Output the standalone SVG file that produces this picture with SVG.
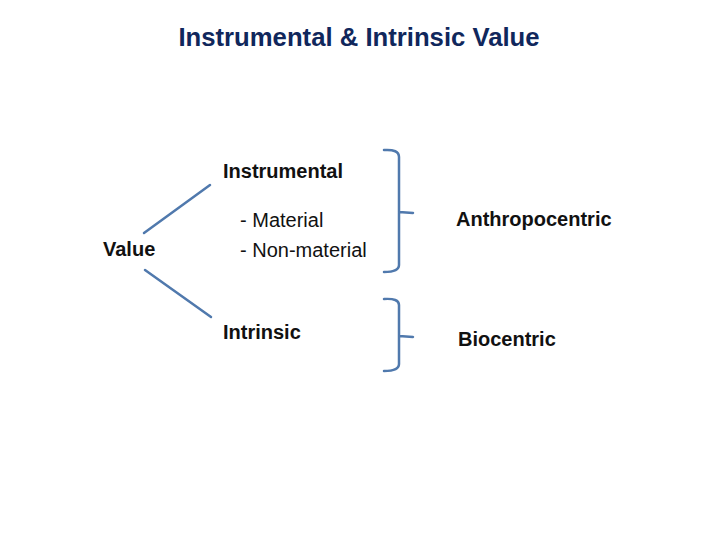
<svg xmlns="http://www.w3.org/2000/svg" width="720" height="540" viewBox="0 0 720 540">
<style>
.t{font-family:"Liberation Sans",Arial,sans-serif;font-size:20px;fill:#111}
.b{font-weight:bold}
.c{fill:none;stroke:#5079ad;stroke-width:2.5;stroke-linecap:round}
</style>
<rect width="720" height="540" fill="#fff"/>
<text id="title" x="359" y="46" text-anchor="middle" font-family="'Liberation Sans',Arial,sans-serif" font-weight="bold" font-size="25.7" fill="#10275c">Instrumental &amp; Intrinsic Value</text>
<g id="value"><text class="t b" x="103" y="256">Value</text></g>
<g id="instrumental">
<text class="t b" x="223" y="178">Instrumental</text>
<text class="t" x="240" y="227">- Material</text>
<text class="t" x="240" y="257">- Non-material</text>
</g>
<g id="intrinsic"><text class="t b" x="223" y="339">Intrinsic</text></g>
<g id="anthropocentric"><text class="t b" x="456" y="226">Anthropocentric</text></g>
<g id="biocentric"><text class="t b" x="458" y="346">Biocentric</text></g>
<g id="connectors">
<path class="c" d="M144,233 L210,185"/>
<path class="c" d="M145,270 L211,317"/>
<path class="c" d="M384,150 Q399,149 399,157 L399,265 Q399,272 384,272 M399,212 L413,213"/>
<path class="c" d="M384,299 Q399,298 399,305 L399,364 Q399,371 384,371 M399,336 L413,337"/>
</g>
</svg>
